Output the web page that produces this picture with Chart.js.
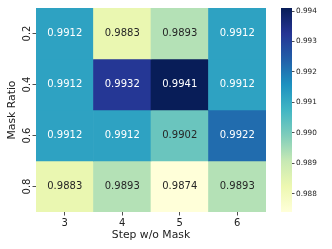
<!DOCTYPE html>
<html>
<head>
<meta charset="utf-8">
<script src="https://cdn.jsdelivr.net/npm/chart.js@4"></script>
<style>
  body { margin: 0; background: #fff; }
  #wrap { position: relative; width: 332px; height: 249px; }
  #wrap canvas { position: absolute; left: 0; top: 0; }
</style>
</head>
<body>
<div id="wrap">
  <canvas id="heat" width="332" height="249"></canvas>
  <canvas id="cbar" width="332" height="249"></canvas>
</div>
<script>
// data
const steps = ['3', '4', '5', '6'];
const maskRatios = ['0.2', '0.4', '0.6', '0.8'];
const ratio02 = [0.9912, 0.9883, 0.9893, 0.9912];
const ratio04 = [0.9912, 0.9932, 0.9941, 0.9912];
const ratio06 = [0.9912, 0.9912, 0.9902, 0.9922];
const ratio08 = [0.9883, 0.9893, 0.9874, 0.9893];
const rows = [ratio02, ratio04, ratio06, ratio08];
const cbarTicks = [0.988, 0.989, 0.990, 0.991, 0.992, 0.993, 0.994];

// YlGnBu (matplotlib)
const ylgnbu = ['#ffffd9', '#edf8b1', '#c7e9b4', '#7fcdbb', '#41b6c4', '#1d91c0', '#225ea8', '#253494', '#081d58'];

const allValues = rows.flat();
const vmin = Math.min(...allValues);
const vmax = Math.max(...allValues);

const FONT = '"DejaVu Sans", sans-serif';
const TEXT = '#222';

function hexToRgb(h) {
    return [1, 3, 5].map(i => parseInt(h.slice(i, i + 2), 16));
}

function colorRgb(v) {
    let t = (v - vmin) / (vmax - vmin);
    t = Math.min(1, Math.max(0, t)) * (ylgnbu.length - 1);
    const i = Math.min(Math.floor(t), ylgnbu.length - 2);
    const f = t - i;
    const a = hexToRgb(ylgnbu[i]);
    const b = hexToRgb(ylgnbu[i + 1]);
    return a.map((c, k) => Math.round(c + (b[k] - c) * f));
}

function colorFor(v) {
    const [r, g, b] = colorRgb(v);
    return `rgb(${r},${g},${b})`;
}

// seaborn picks text colour from the cell luminance
function textColorFor(v) {
    const lin = colorRgb(v).map(c => {
        c = c / 255;
        return c <= 0.03928 ? c / 12.92 : Math.pow((c + 0.055) / 1.055, 2.4);
    });
    const lum = 0.2126 * lin[0] + 0.7152 * lin[1] + 0.0722 * lin[2];
    return lum > 0.408 ? '#262626' : '#ffffff';
}

// values written in the middle of every cell
const cellLabels = {
    id: 'cellLabels',
    afterDatasetsDraw(chart) {
        const ctx = chart.ctx;
        ctx.save();
        ctx.font = '10px ' + FONT;
        ctx.textAlign = 'center';
        ctx.textBaseline = 'middle';
        chart.data.datasets.forEach((ds, r) => {
            chart.getDatasetMeta(r).data.forEach((bar, c) => {
                const v = rows[r][c];
                const p = bar.getCenterPoint();
                ctx.fillStyle = textColorFor(v);
                ctx.fillText(v.toFixed(4), p.x, p.y);
            });
        });
        ctx.restore();
    }
};

new Chart(document.getElementById('heat'), {
    type: 'bar',
    data: {
        labels: steps,
        datasets: rows.map((row, r) => ({
            label: maskRatios[r],
            data: row.map(() => [r - 0.5, r + 0.5]),
            backgroundColor: row.map(colorFor),
            borderWidth: 0,
            grouped: false,
            barPercentage: 1,
            categoryPercentage: 1
        }))
    },
    options: {
        responsive: false,
        animation: false,
        layout: { padding: { left: 0, right: 66, top: 8, bottom: 0 } },
        plugins: { legend: { display: false }, tooltip: { enabled: false } },
        scales: {
            x: {
                grid: { drawOnChartArea: false, offset: false, tickLength: 3.5, color: TEXT, lineWidth: 0.8 },
                border: { display: false },
                ticks: { font: { family: FONT, size: 10 }, color: TEXT, padding: 2, maxRotation: 0 },
                title: { display: true, text: 'Step w/o Mask', font: { family: FONT, size: 10.8 }, color: TEXT, padding: { top: 0, bottom: 7 } },
                afterFit: (scale) => { scale.height = 37; }
            },
            y: {
                type: 'linear',
                reverse: true,
                min: -0.5,
                max: 3.5,
                grid: { drawOnChartArea: false, tickLength: 3.5, color: TEXT, lineWidth: 0.8 },
                border: { display: false },
                afterBuildTicks: (scale) => {
                    scale.ticks = maskRatios.map((_, i) => ({ value: i }));
                },
                ticks: {
                    font: { family: FONT, size: 10 },
                    color: TEXT,
                    minRotation: 90,
                    maxRotation: 90,
                    crossAlign: 'center',
                    padding: -3,
                    callback: (v) => maskRatios[v]
                },
                title: { display: true, text: 'Mask Ratio', font: { family: FONT, size: 10.8 }, color: TEXT, padding: { top: 6, bottom: 0 } },
                afterFit: (scale) => { scale.width = 36; }
            }
        }
    },
    plugins: [cellLabels]
});

// colour bar
new Chart(document.getElementById('cbar'), {
    type: 'bar',
    data: {
        labels: [''],
        datasets: [{
            data: [[vmin, vmax]],
            borderWidth: 0,
            barPercentage: 1,
            categoryPercentage: 1,
            backgroundColor: (context) => {
                const chart = context.chart;
                const yScale = chart.scales.y;
                if (!chart.chartArea || !yScale) return ylgnbu[4];
                const g = chart.ctx.createLinearGradient(0, yScale.getPixelForValue(vmin), 0, yScale.getPixelForValue(vmax));
                ylgnbu.forEach((c, i) => g.addColorStop(i / (ylgnbu.length - 1), c));
                return g;
            }
        }]
    },
    options: {
        responsive: false,
        animation: false,
        layout: { padding: { left: 281, right: 0, top: 8, bottom: 37 } },
        plugins: { legend: { display: false }, tooltip: { enabled: false } },
        scales: {
            x: { display: false },
            y: {
                position: 'right',
                min: vmin,
                max: vmax,
                grid: { drawOnChartArea: false, tickLength: 2.5, color: TEXT, lineWidth: 0.8 },
                border: { display: false },
                afterBuildTicks: (scale) => {
                    scale.ticks = cbarTicks.map(v => ({ value: v }));
                },
                ticks: {
                    font: { family: FONT, size: 7.3 },
                    color: TEXT,
                    padding: 1.5,
                    callback: (v) => v.toFixed(3)
                },
                afterFit: (scale) => { scale.width = 40; }
            }
        }
    }
});
</script>
</body>
</html>
